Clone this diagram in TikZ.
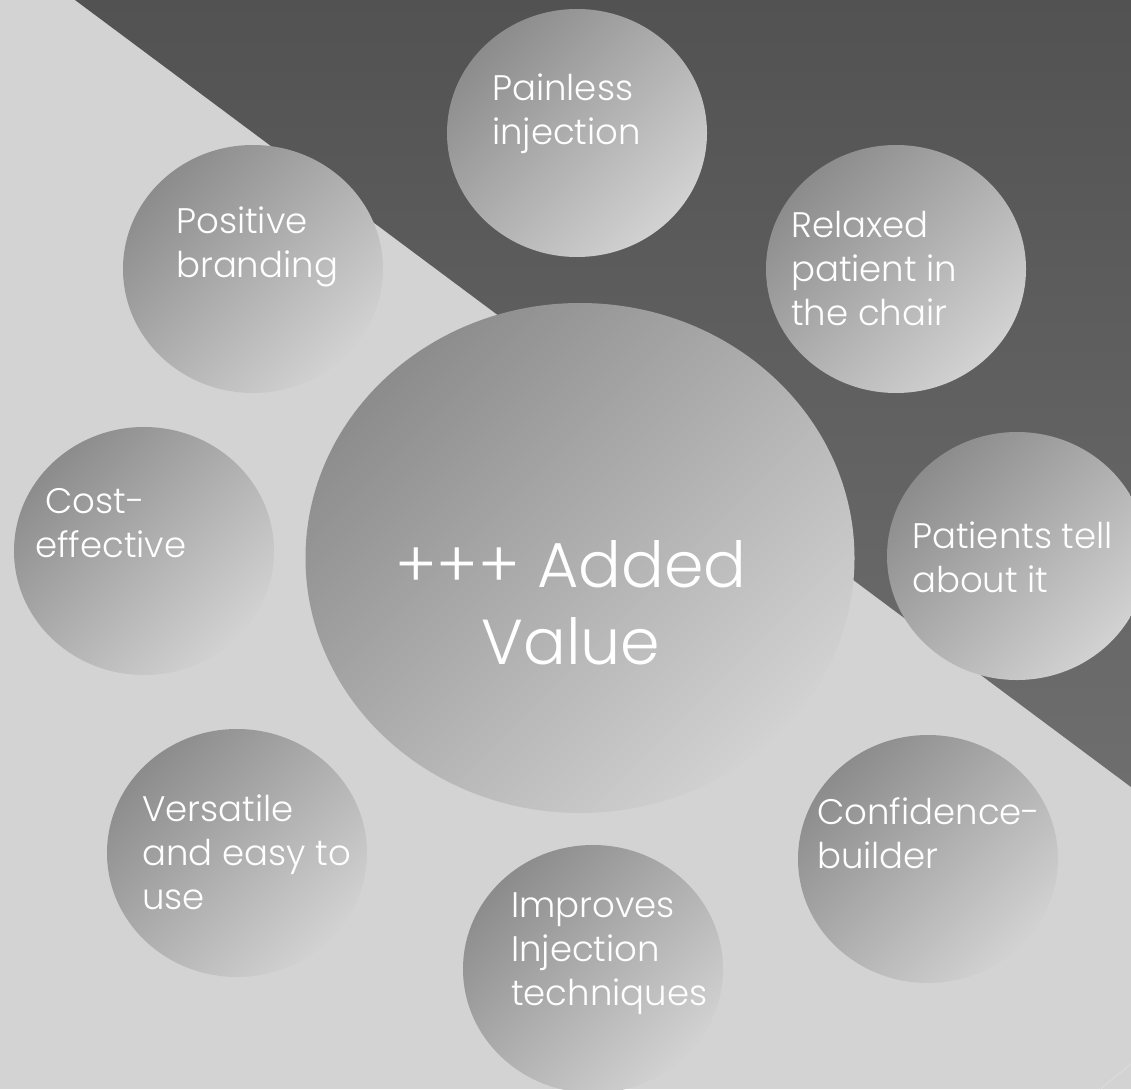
\documentclass[tikz,border=0pt]{standalone}
\usepackage{fontspec}
\setmainfont{Poppins}[UprightFont=* Light]
\usetikzlibrary{shapes.geometric}
\definecolor{bgL}{HTML}{D3D3D3}
\definecolor{darkA}{HTML}{525252}
\definecolor{darkB}{HTML}{6E6E6E}
\definecolor{bubA}{HTML}{8C8C8C}
\definecolor{bubB}{HTML}{D2D2D2}
\definecolor{faint}{HTML}{DCDCDC}
\newcommand\mystrut{\rule{0pt}{30pt}}
\begin{document}
\begin{tikzpicture}[x=1pt,y=-1pt,
  bubble/.style={ellipse, draw=none, inner sep=0pt,
    minimum width=260pt, minimum height=248pt,
    top color=bubA, bottom color=bubB, shading angle=45},
  bigbubble/.style={bubble, minimum width=549pt, minimum height=510pt},
  btext/.style={text=white, align=left, inner sep=0pt, anchor=north west,
    font=\fontsize{35.5}{44}\selectfont},
  ctext/.style={text=white, align=center, inner sep=0pt, anchor=north,
    font=\fontsize{63.5}{77}\selectfont}]
\fill[bgL] (0,0) rectangle (1131,1089);
\useasboundingbox (0,0) rectangle (1131,1089);
\shade[top color=darkA, bottom color=darkB] (75,0) -- (1131,0) -- (1131,787) -- cycle;
\draw[faint, line width=1pt] (1100,1089) -- (1131,1064);
% bubbles
\node[bubble] (pain) at (577,133) {};
\node[bubble] (posi) at (253,269) {};
\node[bubble] (relax) at (896,269) {};
\node[bubble] (tell) at (1017,556) {};
\node[bubble] (cost) at (144,551) {};
\node[bubble] (vers) at (237,853) {};
\node[bubble] (conf) at (928,859) {};
\node[bubble] (impr) at (593,969) {};
\node[bigbubble] (core) at (580,558) {};
% texts
\node[btext] (painT) at (492,70) {\mystrut Painless\\injection};
\node[btext] (posiT) at (176,203) {\mystrut Positive\\branding};
\node[btext] (relaxT) at (791,207) {\mystrut Relaxed\\patient in\\the chair};
\node[btext] (tellT) at (912,518) {\mystrut Patients tell\\about it};
\node[btext] (costT) at (35,483) {\mystrut\hspace*{10pt}Cost-\\effective};
\node[btext] (versT) at (142,791) {\mystrut Versatile\\and easy to\\use};
\node[btext] (confT) at (817,794) {\mystrut Confidence-\\builder};
\node[btext] (imprT) at (511,887) {\mystrut Improves\\Injection\\techniques};
\node[ctext] (coreT) at (571,537) {\rule{0pt}{50pt}+++ Added\\Value};
\end{tikzpicture}
\end{document}
